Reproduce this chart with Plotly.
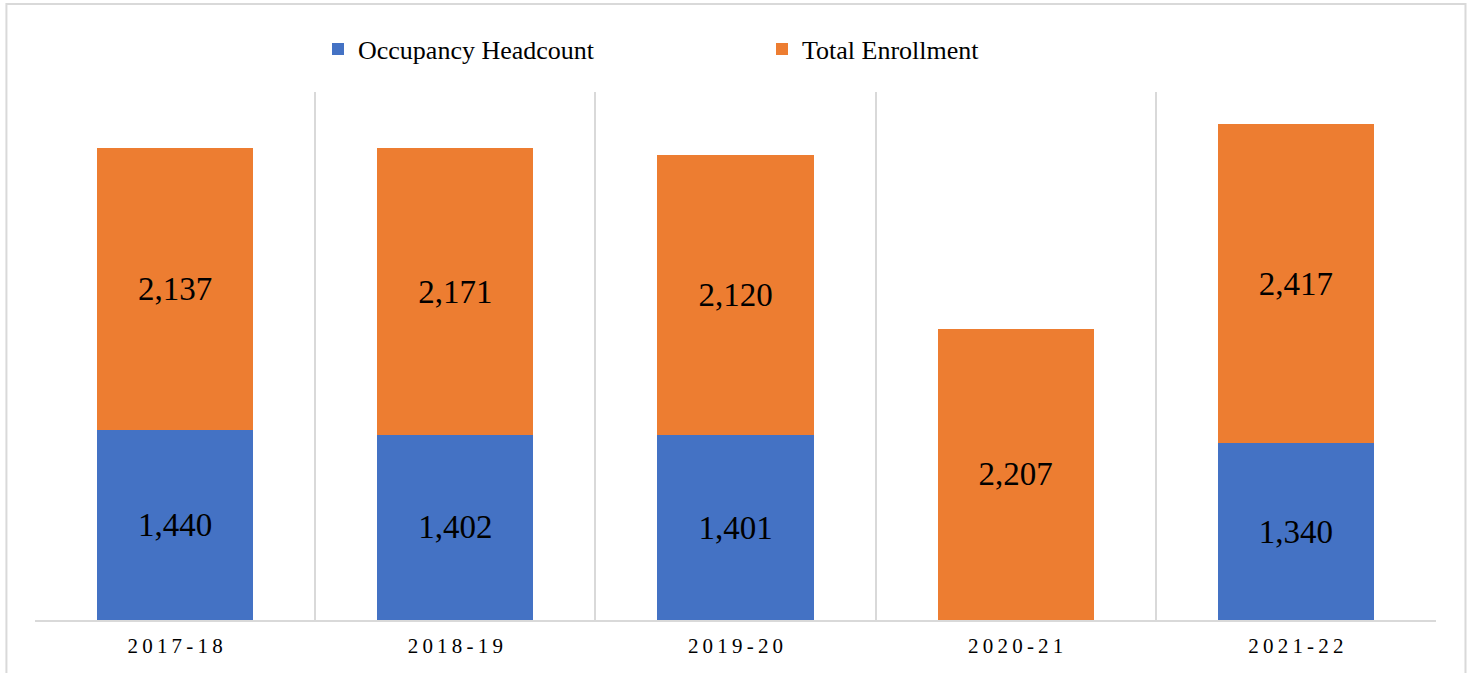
import plotly.graph_objects as go

# Academic years and the two stacked series
years = ["2017-18", "2018-19", "2019-20", "2020-21", "2021-22"]
occupancy = [1440, 1402, 1401, 0, 1340]
enrollment = [2137, 2171, 2120, 2207, 2417]

BLUE = "#4472C4"
ORANGE = "#ED7D31"
SERIF = "Georgia, 'Liberation Serif', 'DejaVu Serif', serif"
GRID = "#d9d9d9"


def labels(values):
    return [f"{v:,}" if v else "" for v in values]


# spaced-out tick text for the year labels
spaced = ["\u2009".join(y) for y in years]

fig = go.Figure()
for name, vals, color in (("Occupancy Headcount", occupancy, BLUE),
                          ("Total Enrollment", enrollment, ORANGE)):
    fig.add_trace(go.Bar(
        name=name, x=years, y=vals,
        marker=dict(color=color, line=dict(width=0)),
        text=labels(vals), textposition="inside", insidetextanchor="middle",
        textfont=dict(family=SERIF, size=33, color="black"),
        textangle=0,
    ))

fig.update_layout(
    barmode="stack",
    bargap=0.443,
    width=1472, height=673,
    margin=dict(l=35, r=36, t=92, b=53),
    paper_bgcolor="white", plot_bgcolor="white",
    font=dict(family=SERIF, color="black"),
    legend=dict(
        orientation="h", x=0.202, y=1.0814, xanchor="left", yanchor="middle",
        font=dict(family=SERIF, size=26, color="black"),
        entrywidth=399, entrywidthmode="pixels",
        itemwidth=30, traceorder="normal",
    ),
    showlegend=True,
    xaxis=dict(
        type="category", tickson="boundaries", showgrid=True,
        gridcolor=GRID, gridwidth=1.5,
        showline=True, linecolor=GRID, linewidth=1.5,
        ticks="", tickvals=years, ticktext=spaced,
        tickfont=dict(family=SERIF, size=21, color="black"),
        ticklabelstandoff=6,
    ),
    yaxis=dict(range=[0, 4000], visible=False, showgrid=False),
    shapes=[dict(
        type="rect", xref="paper", yref="paper",
        x0=-0.0204, x1=1.02105, y0=-0.12, y1=1.1667,
        line=dict(color=GRID, width=2), fillcolor="rgba(0,0,0,0)",
        layer="below",
    )],
)

fig.write_html("out.html")
